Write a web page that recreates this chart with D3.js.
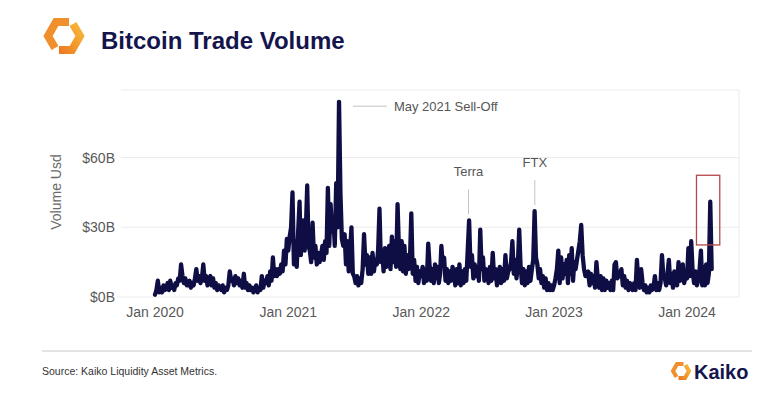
<!DOCTYPE html>
<html>
<head>
<meta charset="utf-8">
<script src="https://cdn.jsdelivr.net/npm/d3@7"></script>
<style>
  body { margin: 0; background: #fff; font-family: "Liberation Sans", Arial, sans-serif; }
</style>
</head>
<body>
<svg id="chart" width="775" height="395"></svg>
<script>
// Monthly buckets, each holding ~8 readings (USD billions) spread over the month
const months = [
  "2020-01","2020-02","2020-03","2020-04","2020-05","2020-06","2020-07","2020-08","2020-09","2020-10","2020-11","2020-12",
  "2021-01","2021-02","2021-03","2021-04","2021-05","2021-06","2021-07","2021-08","2021-09","2021-10","2021-11","2021-12",
  "2022-01","2022-02","2022-03","2022-04","2022-05","2022-06","2022-07","2022-08","2022-09","2022-10","2022-11","2022-12",
  "2023-01","2023-02","2023-03","2023-04","2023-05","2023-06","2023-07","2023-08","2023-09","2023-10","2023-11","2023-12",
  "2024-01","2024-02","2024-03"
];
const volume = [
  [1, 3, 7, 2, 4, 2, 5, 3], [4, 6, 3, 7, 4, 5, 3, 6], [5, 8, 7, 14, 9, 6, 8, 5], [5, 7, 4, 6, 5, 8, 12, 7],
  [9, 6, 8, 14, 7, 9, 5, 8], [9, 5, 8, 4, 6, 3, 5, 4], [3, 5, 2, 4, 3, 5, 11, 7], [8, 5, 9, 6, 8, 5, 7, 4],
  [10, 4, 6, 3, 5, 3, 4, 2], [3, 5, 2, 4, 3, 9, 4, 7], [6, 9, 5, 11, 7, 17, 9, 12], [9, 12, 10, 14, 11, 20, 14, 25],
  [20, 26, 30, 45, 14, 24, 13, 28], [41, 18, 25, 33, 20, 30, 48, 22], [20, 15, 32, 17, 22, 14, 19, 15], [18, 22, 16, 24, 19, 47, 22, 40],
  [28, 34, 22, 49, 30, 84, 45, 25], [22, 27, 14, 24, 11, 20, 30, 10], [9, 6, 9, 5, 8, 6, 12, 27], [14, 18, 10, 17, 10, 19, 11, 16],
  [14, 20, 38, 15, 20, 11, 21, 13], [16, 22, 12, 26, 15, 24, 13, 40], [20, 12, 24, 11, 22, 10, 18, 12], [15, 36, 10, 16, 7, 13, 6, 11],
  [9, 13, 6, 12, 7, 23, 13, 7], [12, 6, 14, 8, 13, 6, 10, 22], [14, 17, 7, 12, 6, 11, 7, 13], [10, 5, 12, 6, 14, 5, 11, 6],
  [12, 7, 20, 33, 13, 18, 8, 14], [9, 13, 7, 29, 12, 17, 7, 12], [11, 6, 13, 7, 19, 8, 12, 5], [9, 13, 6, 12, 7, 18, 8, 11],
  [12, 15, 24, 10, 16, 8, 14, 29], [13, 6, 12, 5, 11, 6, 13, 7], [12, 16, 37, 17, 14, 8, 12, 6], [9, 4, 8, 3, 6, 3, 5, 3],
  [5, 8, 12, 20, 6, 17, 8, 14], [10, 16, 6, 18, 10, 21, 7, 15], [12, 16, 20, 24, 31, 18, 12, 9], [9, 11, 5, 10, 6, 9, 4, 15],
  [8, 4, 9, 3, 8, 3, 7, 4], [6, 3, 7, 3, 14, 15, 8, 9], [10, 12, 5, 9, 4, 7, 3, 6], [5, 3, 6, 3, 16, 7, 4, 12],
  [6, 3, 5, 2, 4, 2, 5, 3], [4, 9, 3, 6, 3, 6, 18, 9], [8, 5, 10, 16, 6, 10, 4, 11], [9, 5, 15, 7, 10, 14, 6, 9],
  [8, 21, 9, 24, 11, 6, 11, 5], [7, 12, 20, 5, 13, 5, 14, 6], [10, 41, 12]
];

const yTicks = [0, 30, 60];
const xTicks = ["2020-01-01", "2021-01-01", "2022-01-01", "2023-01-01", "2024-01-01"];

const annotations = [
  { label: "May 2021 Sell-Off", date: "2021-05-20", value: 83, side: true },
  { label: "Terra", date: "2022-05-11", value: 33, side: false },
  { label: "FTX", date: "2022-11-09", value: 37, side: false }
];
const highlight = { from: "2024-01-27", to: "2024-03-31", low: 22.4, high: 52.4 };

const navy = "#15154d";
const svg = d3.select("#chart");
const panel = { left: 121, right: 739, top: 90, bottom: 297 };

// flatten month buckets into dated points
const points = [];
months.forEach((m, i) => {
  const start = new Date(m + "-01T00:00:00Z");
  const step = (d3.utcMonth.offset(start, 1) - start) / 8;
  volume[i].forEach((v, j) => points.push({ date: new Date(+start + j * step), value: v }));
});

const x = d3.scaleUtc()
  .domain([new Date("2020-01-01T00:00:00Z"), new Date("2024-01-01T00:00:00Z")])
  .range([155, 687]);
const y = d3.scaleLinear().domain([0, 60]).range([297, 157.6]);

// header
const defs = svg.append("defs");
const grad = defs.append("linearGradient").attr("id", "lg").attr("x1", 0).attr("y1", 1).attr("x2", 1).attr("y2", 0);
grad.append("stop").attr("offset", 0).attr("stop-color", "#ec7a22");
grad.append("stop").attr("offset", 1).attr("stop-color", "#f8b93a");

function logo(g) {
  g.append("path").attr("d", "M69,22 L56,22 L48,36 L55,48")
    .attr("fill", "none").attr("stroke", "#f0902c").attr("stroke-width", 8);
  g.append("path").attr("d", "M59,50 L72,50 L80,36 L73,24")
    .attr("fill", "none").attr("stroke", "url(#lg)").attr("stroke-width", 8);
}
logo(svg.append("g"));
svg.append("text").attr("x", 101).attr("y", 48.5)
  .style("font-size", "24px").style("font-weight", "bold").attr("fill", navy)
  .text("Bitcoin Trade Volume");

// panel frame and grid
const grid = svg.append("g").attr("stroke", "#ebebeb").attr("stroke-width", 1);
grid.append("line").attr("x1", panel.left).attr("x2", panel.right).attr("y1", panel.top).attr("y2", panel.top);
grid.append("line").attr("x1", panel.right).attr("x2", panel.right).attr("y1", panel.top).attr("y2", panel.bottom);
grid.selectAll(".gy").data(yTicks).join("line")
  .attr("x1", d => d === 0 ? 117 : panel.left).attr("x2", panel.right)
  .attr("y1", d => y(d)).attr("y2", d => y(d));

svg.append("g").selectAll("text").data(yTicks).join("text")
  .attr("x", 115).attr("y", d => y(d)).attr("dy", "0.36em").attr("text-anchor", "end")
  .style("font-size", "14px").attr("fill", "#595959")
  .text(d => `$${d}B`);

svg.append("g").selectAll("text").data(xTicks).join("text")
  .attr("x", d => x(new Date(d + "T00:00:00Z"))).attr("y", 316.5).attr("text-anchor", "middle")
  .style("font-size", "14px").attr("fill", "#595959")
  .text(d => d3.utcFormat("%b %Y")(new Date(d + "T00:00:00Z")));

svg.append("text").attr("transform", "translate(61,192) rotate(-90)").attr("text-anchor", "middle")
  .style("font-size", "14px").attr("fill", "#6a6a6a").text("Volume Usd");

// annotations
const ann = svg.append("g");
annotations.forEach(a => {
  const ax = x(new Date(a.date + "T00:00:00Z")), ay = y(a.value);
  if (a.side) {
    ann.append("line").attr("x1", ax + 14).attr("x2", ax + 48).attr("y1", ay + 2).attr("y2", ay + 2)
      .attr("stroke", "#c4c4c4");
    ann.append("text").attr("x", ax + 55).attr("y", ay + 6.5)
      .style("font-size", "13px").attr("fill", "#555").text(a.label);
  } else {
    ann.append("line").attr("x1", ax).attr("x2", ax).attr("y1", ay - 6).attr("y2", ay - 31)
      .attr("stroke", "#c4c4c4");
    ann.append("text").attr("x", ax).attr("y", ay - 44).attr("text-anchor", "middle")
      .style("font-size", "13px").attr("fill", "#555").text(a.label);
  }
});

// volume line
svg.append("path").datum(points)
  .attr("fill", "none").attr("stroke", "#0e0e45").attr("stroke-width", 4.3)
  .attr("stroke-linejoin", "round").attr("stroke-linecap", "round")
  .attr("d", d3.line().x(d => x(d.date)).y(d => y(d.value)));

// highlight box
const hx0 = x(new Date(highlight.from + "T00:00:00Z")), hx1 = x(new Date(highlight.to + "T00:00:00Z"));
svg.append("rect").attr("x", hx0).attr("y", y(highlight.high))
  .attr("width", hx1 - hx0).attr("height", y(highlight.low) - y(highlight.high))
  .attr("fill", "none").attr("stroke", "#b5474b").attr("stroke-width", 1.3);

// footer
svg.append("line").attr("x1", 42).attr("x2", 752).attr("y1", 351).attr("y2", 351)
  .attr("stroke", "#c8c8c8");
svg.append("text").attr("x", 42).attr("y", 374.5).style("font-size", "10.5px").attr("fill", "#333")
  .text("Source: Kaiko Liquidity Asset Metrics.");
logo(svg.append("g").attr("transform", "translate(649,353) scale(0.5)"));
svg.append("text").attr("x", 694).attr("y", 378.5)
  .style("font-size", "20px").style("font-weight", "bold").attr("fill", navy).text("Kaiko");
</script>
</body>
</html>
